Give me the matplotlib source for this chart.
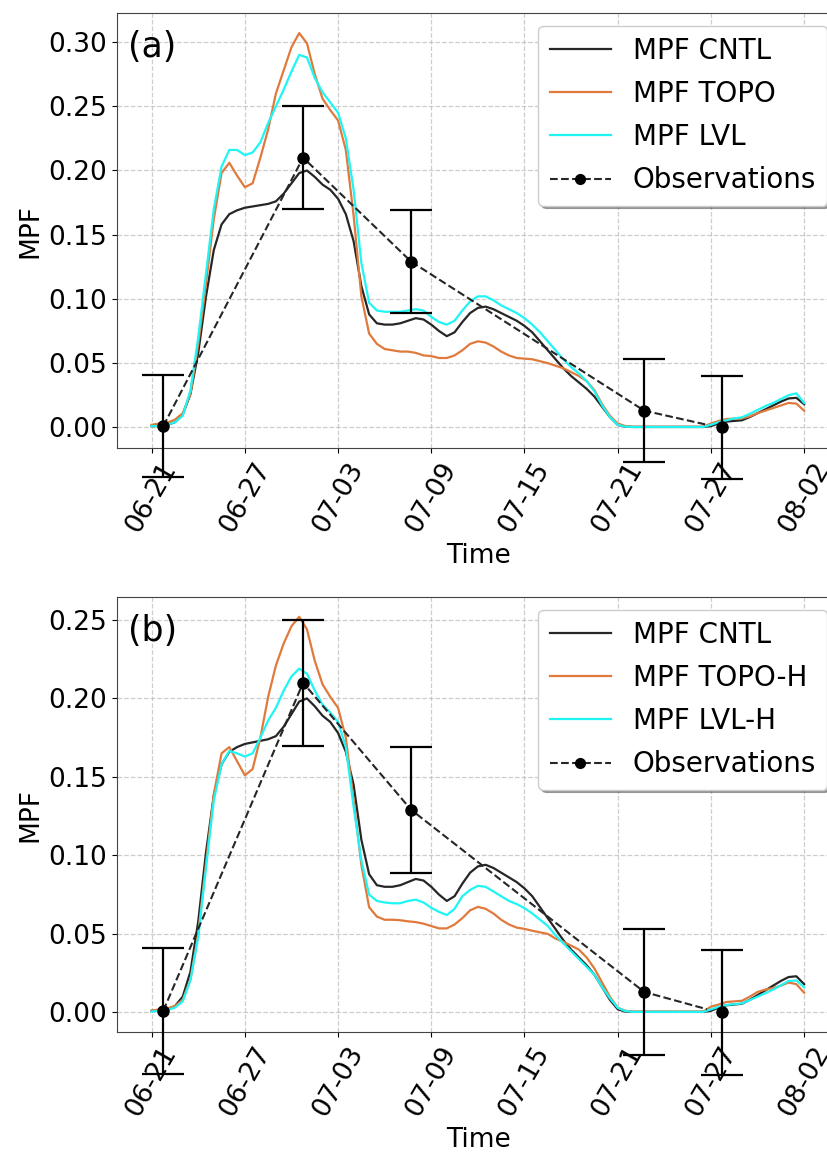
import numpy as np
import pandas as pd
import matplotlib
matplotlib.use('Agg')
import matplotlib.pyplot as plt
from matplotlib.lines import Line2D

# ---------------- data ----------------
time = pd.date_range('2020-06-21', periods=85, freq='12h')

mpf_cntl = [
    0.001, 0.001, 0.002, 0.004, 0.010, 0.026, 0.058, 0.102, 0.138, 0.158,
    0.166, 0.169, 0.171, 0.172, 0.173, 0.174, 0.176, 0.182, 0.190, 0.198,
    0.200, 0.195, 0.189, 0.185, 0.178, 0.166, 0.145, 0.110, 0.088, 0.081,
    0.080, 0.080, 0.081, 0.083, 0.085, 0.084, 0.080, 0.075, 0.071, 0.074,
    0.082, 0.089, 0.093, 0.094, 0.092, 0.089, 0.086, 0.083, 0.079, 0.074,
    0.067, 0.060, 0.053, 0.046, 0.040, 0.035, 0.030, 0.024, 0.016, 0.008,
    0.002, 0.0005, 0.0003, 0.0003, 0.0003, 0.0003, 0.0003, 0.0003, 0.0003, 0.0003,
    0.0003, 0.0003, 0.001, 0.003, 0.0045, 0.005, 0.0055, 0.008, 0.011, 0.014,
    0.017, 0.020, 0.0225, 0.023, 0.018]

mpf_topo = [
    0.002, 0.003, 0.0036, 0.006, 0.011, 0.026, 0.065, 0.112, 0.162, 0.198,
    0.206, 0.196, 0.187, 0.190, 0.210, 0.232, 0.260, 0.278, 0.296, 0.307,
    0.299, 0.275, 0.256, 0.247, 0.239, 0.216, 0.165, 0.102, 0.073, 0.065,
    0.061, 0.060, 0.059, 0.059, 0.058, 0.056, 0.0555, 0.054, 0.054, 0.056,
    0.060, 0.065, 0.067, 0.066, 0.063, 0.059, 0.056, 0.054, 0.0535, 0.053,
    0.0515, 0.050, 0.048, 0.046, 0.043, 0.040, 0.036, 0.029, 0.018, 0.009,
    0.003, 0.001, 0.0005, 0.0005, 0.0005, 0.0005, 0.0005, 0.0005, 0.0005, 0.0005,
    0.0005, 0.0005, 0.003, 0.005, 0.0065, 0.0068, 0.007, 0.0085, 0.011, 0.013,
    0.015, 0.017, 0.019, 0.0185, 0.013]

mpf_lvl = [
    0.001, 0.001, 0.002, 0.004, 0.009, 0.029, 0.070, 0.120, 0.170, 0.203,
    0.216, 0.216, 0.212, 0.214, 0.222, 0.237, 0.250, 0.263, 0.277, 0.290,
    0.288, 0.272, 0.261, 0.253, 0.245, 0.225, 0.185, 0.128, 0.097, 0.091,
    0.090, 0.090, 0.090, 0.091, 0.092, 0.091, 0.086, 0.082, 0.080, 0.083,
    0.091, 0.098, 0.102, 0.102, 0.099, 0.095, 0.092, 0.089, 0.085, 0.080,
    0.074, 0.067, 0.060, 0.053, 0.047, 0.042, 0.036, 0.028, 0.017, 0.008,
    0.002, 0.0005, 0.0003, 0.0003, 0.0003, 0.0003, 0.0003, 0.0003, 0.0003, 0.0003,
    0.0003, 0.0003, 0.002, 0.004, 0.0055, 0.007, 0.0078, 0.0105, 0.0135, 0.0165,
    0.019, 0.022, 0.025, 0.0265, 0.019]

mpf_topo_h = [
    0.001, 0.002, 0.0025, 0.004, 0.008, 0.021, 0.050, 0.095, 0.139, 0.165,
    0.169, 0.160, 0.151, 0.155, 0.175, 0.201, 0.221, 0.235, 0.246, 0.252,
    0.244, 0.224, 0.209, 0.201, 0.194, 0.175, 0.135, 0.094, 0.067, 0.061,
    0.059, 0.059, 0.0587, 0.058, 0.0575, 0.0565, 0.055, 0.0535, 0.0535, 0.056,
    0.060, 0.065, 0.0672, 0.066, 0.063, 0.059, 0.056, 0.054, 0.0532, 0.052,
    0.051, 0.050, 0.047, 0.045, 0.0425, 0.040, 0.035, 0.028, 0.019, 0.010,
    0.003, 0.001, 0.0005, 0.0005, 0.0005, 0.0005, 0.0005, 0.0005, 0.0005, 0.0005,
    0.0005, 0.0005, 0.0036, 0.005, 0.0066, 0.007, 0.0074, 0.010, 0.013, 0.0145,
    0.0155, 0.017, 0.019, 0.018, 0.0125]

mpf_lvl_h = [
    0.0005, 0.001, 0.0015, 0.003, 0.007, 0.0206, 0.048, 0.092, 0.135, 0.158,
    0.1665, 0.165, 0.163, 0.165, 0.175, 0.186, 0.194, 0.205, 0.214, 0.219,
    0.2157, 0.205, 0.196, 0.191, 0.185, 0.169, 0.131, 0.097, 0.075, 0.071,
    0.070, 0.0695, 0.0695, 0.071, 0.0718, 0.070, 0.0666, 0.064, 0.062, 0.066,
    0.074, 0.078, 0.0806, 0.080, 0.077, 0.074, 0.071, 0.069, 0.0664, 0.063,
    0.059, 0.055, 0.049, 0.044, 0.039, 0.034, 0.029, 0.024, 0.016, 0.009,
    0.003, 0.0008, 0.0003, 0.0003, 0.0003, 0.0003, 0.0003, 0.0003, 0.0003, 0.0003,
    0.0003, 0.0003, 0.0019, 0.0035, 0.0047, 0.0052, 0.0057, 0.0078, 0.010, 0.0122,
    0.0145, 0.0172, 0.020, 0.0203, 0.016]

obs_time = pd.to_datetime(['2020-06-21 18:00', '2020-06-30 18:00', '2020-07-07 17:00',
                           '2020-07-22 17:00', '2020-07-27 17:00'])
obs_mpf = [0.001, 0.21, 0.129, 0.013, 0.0]
obs_err = [0.04, 0.04, 0.04, 0.04, 0.04]

obs_line_time = pd.to_datetime(['2020-06-21 18:00', '2020-06-30 18:00', '2020-07-07 17:00',
                                '2020-07-22 17:00', '2020-07-26 18:00'])
obs_line_mpf = [0.001, 0.21, 0.129, 0.013, 0.002]

tick_dates = pd.to_datetime(['2020-06-21', '2020-06-27', '2020-07-03', '2020-07-09',
                             '2020-07-15', '2020-07-21', '2020-07-27', '2020-08-02'])
tick_labels = ['06-21', '06-27', '07-03', '07-09', '07-15', '07-21', '07-27', '08-02']

panels = [
    dict(tag='(a)', series=[(mpf_cntl, 'MPF CNTL'), (mpf_topo, 'MPF TOPO'), (mpf_lvl, 'MPF LVL')],
         yticks=[0.00, 0.05, 0.10, 0.15, 0.20, 0.25, 0.30], ylim=(-0.0161, 0.3226)),
    dict(tag='(b)', series=[(mpf_cntl, 'MPF CNTL'), (mpf_topo_h, 'MPF TOPO-H'), (mpf_lvl_h, 'MPF LVL-H')],
         yticks=[0.00, 0.05, 0.10, 0.15, 0.20, 0.25], ylim=(-0.0125, 0.2646)),
]

# ---------------- styles ----------------
colors = ['#262626', '#e07a3c', '#1ff5f5']
FS = 19
plt.rcParams['font.family'] = ['DejaVu Sans']

fig = plt.figure(figsize=(8.28, 11.55), dpi=100)
positions = [[0.1413, 0.6121, 0.873, 0.3766], [0.1413, 0.1065, 0.873, 0.3766]]

t0 = pd.Timestamp('2020-06-21')
xlim = (t0 - pd.Timedelta(days=2.23), t0 + pd.Timedelta(days=44.3))

for pos, p in zip(positions, panels):
    ax = fig.add_axes(pos)
    handles = []
    for (vals, lab), c in zip(p['series'], colors):
        h, = ax.plot(time, vals, color=c, lw=1.6, label=lab)
        handles.append(h)
    ax.plot(obs_line_time, obs_line_mpf, color='#262626', ls='--', lw=1.5)
    ax.errorbar(obs_time, obs_mpf, yerr=obs_err, fmt='o', color='black', ms=8,
                elinewidth=1.6, capsize=15, capthick=1.6, clip_on=False, zorder=5)
    handles.append(Line2D([], [], color='#262626', ls='--', lw=1.5, marker='o',
                          markersize=7, markerfacecolor='black', markeredgecolor='black'))
    labels = [s[1] for s in p['series']] + ['Observations']
    ax.legend(handles, labels, loc='upper right', fontsize=20, shadow=True,
              handlelength=2.2, labelspacing=0.55, borderaxespad=0.45)
    ax.set_xlim(xlim)
    ax.set_ylim(p['ylim'])
    ax.set_yticks(p['yticks'])
    ax.set_yticklabels(['%.2f' % v for v in p['yticks']])
    ax.set_xticks(tick_dates)
    ax.set_xticklabels(tick_labels, rotation=60)
    ax.tick_params(labelsize=FS)
    ax.grid(True, ls='--', color='#b8b8b8', alpha=0.7, lw=0.9)
    ax.set_xlabel('Time', fontsize=FS)
    ax.set_ylabel('MPF', fontsize=FS)
    ax.text(0.015, 0.962, p['tag'], transform=ax.transAxes, fontsize=25, va='top', ha='left')
    for s in ax.spines.values():
        s.set_color('#444444')

fig.savefig('out.png', dpi=100)
